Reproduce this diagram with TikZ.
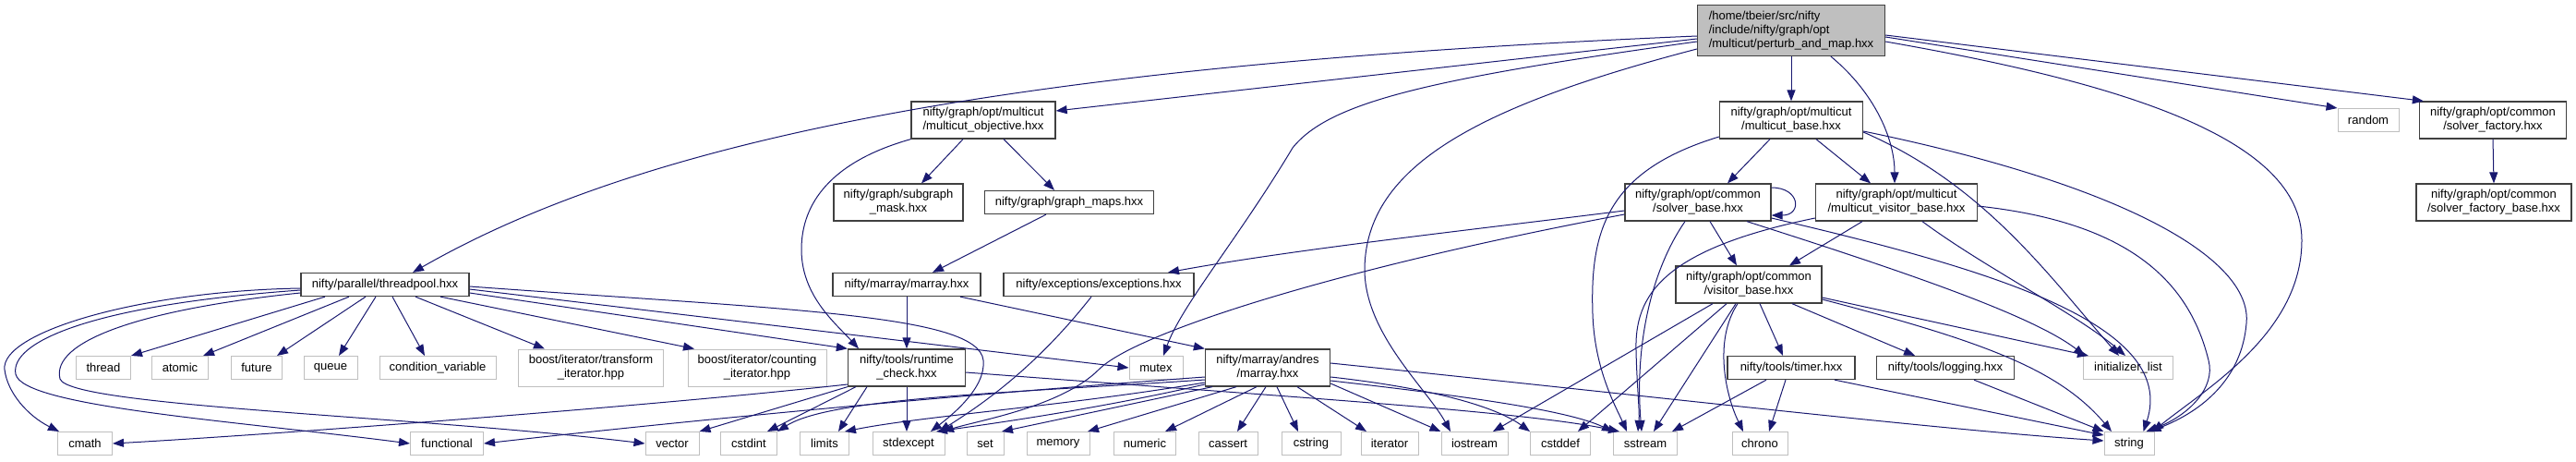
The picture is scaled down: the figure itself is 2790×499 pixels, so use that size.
\documentclass[tikz,border=0pt]{standalone}
\usepackage{fontspec}
\setmainfont{Liberation Sans}
\usetikzlibrary{arrows.meta,calc}
\definecolor{edgeblue}{HTML}{191970}
\definecolor{hdrborder}{HTML}{404040}
\definecolor{stdborder}{HTML}{BFBFBF}
\definecolor{mainfill}{HTML}{BFBFBF}

\begin{document}
\begin{tikzpicture}[x=1pt,y=-1pt,
    hdr/.style={draw=hdrborder,line width=1.3pt,fill=white,inner sep=0pt,minimum height=25pt,align=center,font=\fontsize{13}{15}\selectfont},
    stdhdr/.style={hdr,draw=stdborder,line width=1pt},
    mainfile/.style={hdr,fill=mainfill,align=left,minimum height=55pt},
    twoline/.style={minimum height=40pt},
    incl/.style={draw=edgeblue,line width=1pt,-{Triangle[length=12pt,width=9pt]}}]
    \fill[white] (0,0) rectangle (2790,499);
    \useasboundingbox (0,0) rectangle (2790,499);
    % files
    \node[mainfile,minimum width=203pt] (main) at (1940,33) {/home/tbeier/src/nifty\\/include/nifty/graph/opt\\/multicut/perturb\_and\_map.hxx};
    \node[hdr,twoline,minimum width=156pt] (mobj) at (1065,130) {nifty/graph/opt/multicut\\/multicut\_objective.hxx};
    \node[hdr,twoline,minimum width=155pt] (mbase) at (1940,130) {nifty/graph/opt/multicut\\/multicut\_base.hxx};
    \node[stdhdr,minimum width=66pt] (random) at (2565,130) {random};
    \node[hdr,twoline,minimum width=159pt] (sfac) at (2700,130) {nifty/graph/opt/common\\/solver\_factory.hxx};
    \node[hdr,twoline,minimum width=140pt] (smask) at (973,219) {nifty/graph/subgraph\\\_mask.hxx};
    \node[hdr,minimum width=183pt] (gmaps) at (1158,219) {nifty/graph/graph\_maps.hxx};
    \node[hdr,twoline,minimum width=158pt] (sbase) at (1839,219) {nifty/graph/opt/common\\/solver\_base.hxx};
    \node[hdr,twoline,minimum width=175pt] (mvis) at (2054,219) {nifty/graph/opt/multicut\\/multicut\_visitor\_base.hxx};
    \node[hdr,twoline,minimum width=168pt] (sfbase) at (2701,219) {nifty/graph/opt/common\\/solver\_factory\_base.hxx};
    \node[hdr,minimum width=182pt] (tpool) at (417,308) {nifty/parallel/threadpool.hxx};
    \node[hdr,minimum width=160pt] (marr) at (982,308) {nifty/marray/marray.hxx};
    \node[hdr,minimum width=206pt] (exc) at (1190,308) {nifty/exceptions/exceptions.hxx};
    \node[hdr,twoline,minimum width=158pt] (vbase) at (1894,308) {nifty/graph/opt/common\\/visitor\_base.hxx};
    \node[stdhdr,minimum width=59pt] (thread) at (112,398) {thread};
    \node[stdhdr,minimum width=61pt] (atomic) at (195,398) {atomic};
    \node[stdhdr,minimum width=55pt] (future) at (278,398) {future};
    \node[stdhdr,minimum width=58pt] (queue) at (358,398) {queue};
    \node[stdhdr,minimum width=126pt] (condvar) at (474,398) {condition\_variable};
    \node[stdhdr,twoline,minimum width=157pt] (transit) at (640,398) {boost/iterator/transform\\\_iterator.hpp};
    \node[stdhdr,twoline,minimum width=150pt] (countit) at (820,398) {boost/iterator/counting\\\_iterator.hpp};
    \node[hdr,twoline,minimum width=127pt] (rcheck) at (982,398) {nifty/tools/runtime\\\_check.hxx};
    \node[stdhdr,minimum width=58pt] (mutex) at (1252,398) {mutex};
    \node[hdr,twoline,minimum width=135pt] (andres) at (1373,398) {nifty/marray/andres\\/marray.hxx};
    \node[hdr,minimum width=138pt] (timer) at (1940,398) {nifty/tools/timer.hxx};
    \node[hdr,minimum width=149pt] (logging) at (2107,398) {nifty/tools/logging.hxx};
    \node[stdhdr,minimum width=97pt] (initlist) at (2305,398) {initializer\_list};
    \node[stdhdr,minimum width=59pt] (cmath) at (92,480) {cmath};
    \node[stdhdr,minimum width=79pt] (functional) at (484,480) {functional};
    \node[stdhdr,minimum width=58pt] (vector) at (728,480) {vector};
    \node[stdhdr,minimum width=61pt] (cstdint) at (811,480) {cstdint};
    \node[stdhdr,minimum width=53pt] (limits) at (893,480) {limits};
    \node[stdhdr,minimum width=78pt] (stdexcept) at (984,480) {stdexcept};
    \node[stdhdr,minimum width=40pt] (set) at (1067,480) {set};
    \node[stdhdr,minimum width=68pt] (memory) at (1146,480) {memory};
    \node[stdhdr,minimum width=67pt] (numeric) at (1240,480) {numeric};
    \node[stdhdr,minimum width=64pt] (cassert) at (1330,480) {cassert};
    \node[stdhdr,minimum width=64pt] (cstring) at (1420,480) {cstring};
    \node[stdhdr,minimum width=62pt] (iterator) at (1505,480) {iterator};
    \node[stdhdr,minimum width=72pt] (iostream) at (1597,480) {iostream};
    \node[stdhdr,minimum width=65pt] (cstddef) at (1690,480) {cstddef};
    \node[stdhdr,minimum width=69pt] (sstream) at (1782,480) {sstream};
    \node[stdhdr,minimum width=60pt] (chrono) at (1906,480) {chrono};
    \node[stdhdr,minimum width=54pt] (string) at (2306,480) {string};
    % includes of the main file
    \draw[incl] ([yshift=-9pt]main.west) -- ([yshift=10pt]mobj.east);
    \draw[incl] ([yshift=-6pt]main.west) .. controls (1100,70) and (700,150) .. ([xshift=30pt]tpool.north);
    \draw[incl] ([yshift=-12pt]main.west) .. controls (1550,85) and (1440,110) .. (1400,160) .. controls (1340,260) and (1280,330) .. ([xshift=8pt]mutex.north);
    \draw[incl] ([yshift=-20pt]main.west) .. controls (1600,115) and (1480,180) .. (1478,290) .. controls (1477,360) and (1545,420) .. ([xshift=-26pt]iostream.north);
    \draw[incl] (main.south) -- (mbase.north);
    \draw[incl] ([xshift=43pt]main.south) .. controls (2030,100) and (2052,150) .. ([xshift=-2pt]mvis.north);
    \draw[incl] ([yshift=-7pt]main.east) -- (random.north west);
    \draw[incl] ([yshift=-5pt]main.east) -- ([xshift=5pt]sfac.north west);
    \draw[incl] ([yshift=-12pt]main.east) .. controls (2300,90) and (2493,150) .. (2493,260) .. controls (2493,360) and (2390,420) .. ([xshift=-2pt]string.north east);
    % multicut objective side
    \draw[incl] ([xshift=-22pt]mobj.south) -- ([xshift=25pt]smask.north);
    \draw[incl] ([xshift=22pt]mobj.south) -- ([xshift=-16pt]gmaps.north);
    \draw[incl] (mobj.south west) .. controls (900,175) and (868,220) .. (868,270) .. controls (868,320) and (905,350) .. ([xshift=-52pt]rcheck.north);
    \draw[incl] ([xshift=-25pt]gmaps.south) -- ([xshift=28pt]marr.north);
    \draw[incl] (marr.south) -- (rcheck.north);
    \draw[incl] ([xshift=58pt]marr.south) -- (andres.north west);
    \draw[incl] ([xshift=-8pt]exc.south) .. controls (1120,400) and (1060,440) .. ([xshift=33pt]stdexcept.north);
    % threadpool
    \draw[incl] ([xshift=-65pt]tpool.south) -- (thread.north east);
    \draw[incl] ([xshift=-39pt]tpool.south) -- ([xshift=25pt]atomic.north);
    \draw[incl] ([xshift=-21pt]tpool.south) -- ([xshift=22pt]future.north);
    \draw[incl] ([xshift=-10pt]tpool.south) -- ([xshift=9pt]queue.north);
    \draw[incl] ([xshift=8pt]tpool.south) -- ([xshift=-14pt]condvar.north);
    \draw[incl] ([xshift=33pt]tpool.south) -- ([xshift=-50pt]transit.north);
    \draw[incl] ([xshift=60pt]tpool.south) -- ([xshift=-68pt]countit.north);
    \draw[incl] ([yshift=-9pt]tpool.east) -- (rcheck.north west);
    \draw[incl] ([yshift=-5pt]tpool.east) -- (mutex.west);
    \draw[incl] ([yshift=-2pt]tpool.east) .. controls (850,335) and (1060,340) .. (1065,390) .. controls (1068,420) and (1030,450) .. ([xshift=24pt]stdexcept.north);
    \draw[incl] ([yshift=-4pt]tpool.west) .. controls (150,315) and (0,360) .. (5,400) .. controls (8,425) and (30,450) .. ([xshift=-28pt]cmath.north);
    \draw[incl] ([yshift=-6pt]tpool.west) .. controls (100,330) and (10,370) .. (17,405) .. controls (25,440) and (250,455) .. (functional.west);
    \draw[incl] ([yshift=-9pt]tpool.west) .. controls (150,335) and (55,370) .. (65,410) .. controls (75,440) and (450,450) .. (vector.west);
    % runtime check
    \draw[incl] ([xshift=-43pt]rcheck.south) -- ([xshift=15pt]limits.north);
    \draw[incl] (rcheck.south) -- ([xshift=-2pt]stdexcept.north);
    \draw[incl] ([yshift=-18pt]rcheck.west) .. controls (700,440) and (300,470) .. (cmath.east);
    \draw[incl] (rcheck.south west) -- (vector.north east);
    \draw[incl] ([xshift=-55pt]rcheck.south) -- ([xshift=20pt]cstdint.north);
    \draw[incl] ([yshift=-5pt]rcheck.east) .. controls (1400,430) and (1650,445) .. ([xshift=-28pt]sstream.north);
    % andres marray
    \draw[incl] ([yshift=-16pt]andres.west) .. controls (1150,440) and (1000,450) .. ([xshift=22pt]limits.north);
    \draw[incl] ([yshift=-18pt]andres.west) .. controls (1200,440) and (1100,455) .. ([xshift=30pt]stdexcept.north);
    \draw[incl] ([yshift=-10pt]andres.west) .. controls (1000,430) and (700,460) .. (functional.east);
    \draw[incl] ([yshift=-13pt]andres.west) .. controls (1100,425) and (900,430) .. (cstdint.north east);
    \draw[incl] ([xshift=-60pt]andres.south) -- ([xshift=18pt]set.north);
    \draw[incl] ([xshift=-34pt]andres.south) -- ([xshift=32pt]memory.north);
    \draw[incl] ([xshift=-12pt]andres.south) -- ([xshift=22pt]numeric.north);
    \draw[incl] ([xshift=-2pt]andres.south) -- ([xshift=10pt]cassert.north);
    \draw[incl] ([xshift=10pt]andres.south) -- ([xshift=-14pt]cstring.north);
    \draw[incl] ([xshift=32pt]andres.south) -- ([xshift=-25pt]iterator.north);
    \draw[incl] ([yshift=5pt]andres.east) .. controls (1800,430) and (2100,465) .. ([yshift=3pt]string.west);
    \draw[incl] ([yshift=-10pt]andres.east) .. controls (1550,420) and (1620,440) .. (cstddef.north west);
    \draw[incl] ([yshift=-14pt]andres.east) .. controls (1600,430) and (1700,445) .. (sstream.north west);
    \draw[incl] ([yshift=-17pt]andres.east) -- (iostream.north west);
    % multicut base
    \draw[incl] ([xshift=-23pt]mbase.south) -- ([xshift=32pt]sbase.north);
    \draw[incl] ([xshift=27pt]mbase.south) -- ([xshift=-28pt]mvis.north);
    \draw[incl] ([yshift=-18pt]mbase.west) .. controls (1740,185) and (1722,250) .. (1725,340) .. controls (1727,400) and (1750,440) .. ([xshift=-20pt]sstream.north);
    \draw[incl] ([yshift=-13pt]mbase.east) .. controls (2150,200) and (2220,300) .. ([xshift=-10pt]initlist.north);
    \draw[incl] ([yshift=-12pt]mbase.east) .. controls (2300,200) and (2440,280) .. (2433,350) .. controls (2428,410) and (2385,445) .. ([xshift=-5pt]string.north east);
    % multicut visitor base
    \draw[incl] ([xshift=-37pt]mvis.south) -- ([xshift=44pt]vbase.north);
    \draw[incl] ([yshift=-17pt]mvis.west) .. controls (1800,270) and (1770,320) .. (1772,380) .. controls (1773,420) and (1776,445) .. ([xshift=-8pt]sstream.north);
    \draw[incl] ([xshift=28pt]mvis.south) .. controls (2150,290) and (2250,340) .. ([xshift=-3pt]initlist.north);
    \draw[incl] ([yshift=-4pt]mvis.east) .. controls (2300,240) and (2370,300) .. (2392,390) .. controls (2400,420) and (2370,450) .. ([xshift=-9pt]string.north east);
    % solver base
    \draw[incl] ([yshift=16pt]sbase.east) .. controls (1950,203) and (1952,233) .. ([yshift=-14pt]sbase.east);
    \draw[incl] ([yshift=-9pt]sbase.west) .. controls (1600,248) and (1400,270) .. ([xshift=75pt]exc.north);
    \draw[incl] ([yshift=-13pt]sbase.west) .. controls (1450,290) and (1230,360) .. (1190,400) .. controls (1150,440) and (1060,455) .. ([xshift=37pt]stdexcept.north);
    \draw[incl] ([xshift=-14pt]sbase.south) .. controls (1790,290) and (1770,370) .. ([xshift=-4pt]sstream.north);
    \draw[incl] ([xshift=13pt]sbase.south) -- ([xshift=-13pt]vbase.north);
    \draw[incl] ([xshift=53pt]sbase.south) .. controls (2050,290) and (2200,340) .. ([xshift=-47pt]initlist.north);
    \draw[incl] ([yshift=-17pt]sbase.east) .. controls (2150,290) and (2360,350) .. ([xshift=-12pt]string.north east);
    % visitor base
    \draw[incl] ([xshift=-39pt]vbase.south) -- ([xshift=20pt]iostream.north);
    \draw[incl] ([xshift=-24pt]vbase.south) -- ([xshift=19pt]cstddef.north);
    \draw[incl] ([xshift=-14pt]vbase.south) -- ([xshift=9pt]sstream.north);
    \draw[incl] ([xshift=-12pt]vbase.south) .. controls (1855,370) and (1870,430) .. ([xshift=-18pt]chrono.north);
    \draw[incl] ([xshift=12pt]vbase.south) -- ([xshift=-9pt]timer.north);
    \draw[incl] ([xshift=47pt]vbase.south) -- ([xshift=-33pt]logging.north);
    \draw[incl] ([yshift=-14pt]vbase.east) -- ([xshift=-43pt]initlist.north);
    \draw[incl] ([yshift=-16pt]vbase.east) .. controls (2150,370) and (2230,400) .. ([xshift=-19pt]string.north);
    % tools
    \draw[incl] ([xshift=-27pt]timer.south) -- ([xshift=29pt]sstream.north);
    \draw[incl] ([xshift=-6pt]timer.south) -- ([xshift=10pt]chrono.north);
    \draw[incl] ([xshift=47pt]timer.south) -- ([yshift=9pt]string.west);
    \draw[incl] ([xshift=31pt]logging.south) -- (string.north west);
    \draw[incl] (sfac.south) -- (sfbase.north);
\end{tikzpicture}
\end{document}
